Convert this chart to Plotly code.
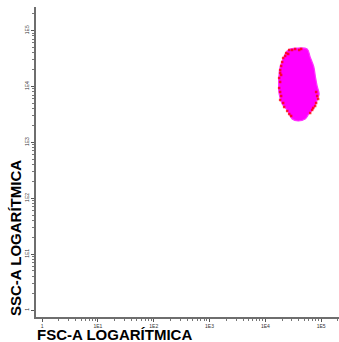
import plotly.graph_objects as go

# Population outline (log10 FSC-A, log10 SSC-A), traced clockwise from the top
gate_fsc_log = [4.444, 4.588, 4.749, 4.803, 4.869, 4.898, 4.928, 4.964, 4.928, 4.869,
                4.780, 4.713, 4.588, 4.480, 4.391, 4.301, 4.247, 4.238, 4.242, 4.265,
                4.332, 4.391]
gate_ssc_log = [4.669, 4.687, 4.669, 4.526, 4.347, 4.168, 4.007, 3.864, 3.757, 3.614,
                3.506, 3.417, 3.381, 3.417, 3.578, 3.685, 3.864, 4.043, 4.168, 4.347,
                4.526, 4.633]

# Sparse low-density events near the population edge
edge_fsc_log = [4.427, 4.480, 4.534, 4.606, 4.642, 4.373, 4.355, 4.409,
                4.319, 4.301, 4.283, 4.265, 4.265, 4.247, 4.265, 4.283, 4.247, 4.265,
                4.283, 4.265, 4.319, 4.337, 4.391, 4.427, 4.462,
                4.928, 4.946, 4.910, 4.892, 4.839, 4.857, 4.803, 4.910]
edge_ssc_log = [4.651, 4.651, 4.669, 4.651, 4.669, 4.597, 4.544, 4.580,
                4.508, 4.436, 4.365, 4.293, 4.240, 4.150, 4.079, 4.204, 3.971, 3.900,
                3.828, 3.757, 3.703, 3.631, 3.560, 3.506, 3.471,
                3.828, 3.775, 3.703, 3.649, 3.578, 3.614, 3.524, 3.900]

major_ticks = [1, 10, 100, 1000, 10000, 100000]
major_labels = ["1", "1E1", "1E2", "1E3", "1E4", "1E5"]

minor_ticks = [k * 10 ** d for d in range(0, 6) for k in range(2, 10) if k * 10 ** d < 262144]

fig = go.Figure()

fig.add_trace(go.Scatter(
    x=[10 ** v for v in gate_fsc_log] + [10 ** gate_fsc_log[0]],
    y=[10 ** v for v in gate_ssc_log] + [10 ** gate_ssc_log[0]],
    mode="lines", fill="toself", fillcolor="#ff00ff",
    line=dict(color="#ff33ff", width=1.2, shape="spline"),
    hoverinfo="skip", showlegend=False,
))

fig.add_trace(go.Scatter(
    x=[10 ** v for v in edge_fsc_log],
    y=[10 ** v for v in edge_ssc_log],
    mode="markers",
    marker=dict(color="#ff0000", size=2.5, symbol="square", opacity=0.8),
    hoverinfo="skip", showlegend=False,
))

axis_common = dict(
    type="log", showgrid=False, zeroline=False,
    showline=True, linecolor="#6e6e6e", linewidth=1.5,
    ticks="outside", ticklen=3, tickwidth=1, tickcolor="#555555",
    tickvals=major_ticks, ticktext=major_labels,
    tickfont=dict(family="Liberation Sans, Arial", size=5, color="#333333"),
    minor=dict(tickvals=minor_ticks, ticks="outside", ticklen=2, tickcolor="#777777"),
)

fig.update_xaxes(range=[-0.11, 5.32], **axis_common)
fig.update_yaxes(range=[-0.125, 5.42], tickangle=-90, **axis_common)

title_font = dict(family="Liberation Sans, Arial", size=15, color="#000000")
fig.add_annotation(text="<b>FSC-A LOGARÍTMICA</b>", xref="paper", yref="paper",
                   x=0, y=0, xanchor="left", yanchor="top", xshift=-1, yshift=-7,
                   showarrow=False, font=title_font)
fig.add_annotation(text="<b>SSC-A LOGARÍTMICA</b>", xref="paper", yref="paper",
                   x=0, y=0, xanchor="center", yanchor="bottom", xshift=-21, yshift=-1,
                   textangle=-90, showarrow=False, font=title_font)

fig.update_layout(
    width=339, height=342,
    margin=dict(l=36, r=0, t=7, b=25),
    paper_bgcolor="white", plot_bgcolor="white",
)

fig.write_html("out.html")
